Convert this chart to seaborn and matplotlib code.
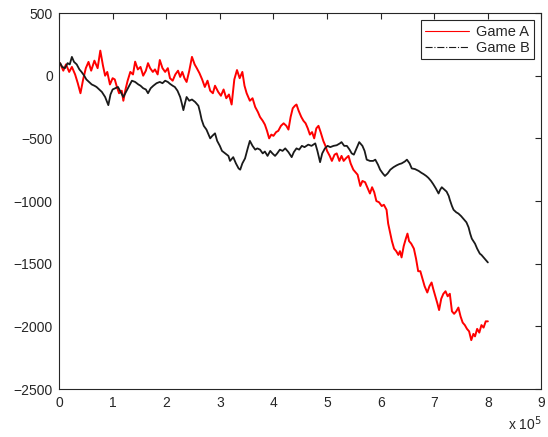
import numpy as np
import pandas as pd
import matplotlib
matplotlib.use("Agg")
import matplotlib.pyplot as plt
from matplotlib.lines import Line2D
import seaborn as sns

# x positions in units of 1e5 steps
game_a_x = [0.00, 0.02, 0.08, 0.13, 0.19, 0.24, 0.30, 0.35, 0.40, 0.45, 0.50, 0.55, 0.60, 0.66, 0.72, 0.77,
            0.82, 0.86, 0.90, 0.95, 1.00, 1.04, 1.08, 1.12, 1.17, 1.20, 1.24, 1.28, 1.33, 1.38, 1.42, 1.47,
            1.52, 1.57, 1.62, 1.66, 1.70, 1.75, 1.79, 1.84, 1.88, 1.93, 1.98, 2.03, 2.07, 2.12, 2.17, 2.22,
            2.26, 2.30, 2.34, 2.38, 2.43, 2.48, 2.53, 2.57, 2.62, 2.67, 2.72, 2.77, 2.82, 2.87, 2.91, 2.97,
            3.02, 3.07, 3.12, 3.17, 3.22, 3.27, 3.32, 3.37, 3.42, 3.46, 3.50, 3.56, 3.61, 3.66, 3.71, 3.75,
            3.80, 3.84, 3.88, 3.92, 3.96, 4.00, 4.05, 4.09, 4.14, 4.19, 4.24, 4.28, 4.32, 4.36, 4.40, 4.43,
            4.47, 4.52, 4.56, 4.60, 4.64, 4.68, 4.72, 4.76, 4.80, 4.84, 4.88, 4.93, 4.97, 5.00, 5.05, 5.09,
            5.14, 5.18, 5.23, 5.27, 5.31, 5.35, 5.40, 5.44, 5.49, 5.53, 5.57, 5.62, 5.66, 5.71, 5.76, 5.80,
            5.84, 5.88, 5.92, 5.97, 6.02, 6.06, 6.11, 6.14, 6.18, 6.21, 6.25, 6.29, 6.33, 6.36, 6.39, 6.43,
            6.47, 6.50, 6.53, 6.57, 6.62, 6.66, 6.70, 6.74, 6.78, 6.82, 6.87, 6.91, 6.95, 6.98, 7.02, 7.06,
            7.09, 7.13, 7.17, 7.21, 7.25, 7.29, 7.33, 7.37, 7.41, 7.45, 7.49, 7.53, 7.57, 7.61, 7.65, 7.69,
            7.73, 7.76, 7.80, 7.84, 7.88, 7.92, 7.96, 8.00]
game_a_y = [90, 100, 40, 90, 30, 70, 10, -60, -140, -30, 60, 110, 40, 120, 60, 200,
            80, 0, 30, -70, -20, -30, -90, -140, -120, -200, -110, -40, 30, 10, 112, 50,
            70, 0, 40, 100, 60, 30, 50, 10, 125, 60, 30, 60, -20, -40, 10, 40,
            -10, 30, -20, -50, 40, 150, 90, 60, 20, -30, -90, -40, -120, -140, -80, -130,
            -160, -110, -180, -150, -230, -30, 45, -20, 30, -80, -140, -200, -180, -250, -290, -330,
            -360, -390, -440, -500, -470, -480, -450, -440, -400, -380, -400, -430, -330, -260, -240, -230,
            -280, -330, -360, -380, -420, -470, -450, -500, -420, -400, -450, -520, -560, -600, -640, -680,
            -630, -620, -680, -640, -680, -660, -640, -700, -750, -770, -790, -880, -840, -850, -900, -940,
            -890, -930, -1000, -1010, -1040, -1030, -1070, -1180, -1260, -1320, -1380, -1400, -1430, -1400, -1450, -1360,
            -1300, -1260, -1320, -1340, -1380, -1460, -1560, -1560, -1620, -1680, -1730, -1680, -1650, -1700, -1760, -1820,
            -1870, -1780, -1740, -1720, -1760, -1740, -1880, -1900, -1880, -1850, -1920, -1970, -1990, -2020, -2040, -2110,
            -2060, -2080, -2020, -2050, -1990, -2010, -1960, -1960]

game_b_x = [0.00, 0.02, 0.06, 0.11, 0.16, 0.20, 0.24, 0.28, 0.33, 0.38, 0.42, 0.47, 0.51, 0.56, 0.61, 0.66,
            0.70, 0.75, 0.80, 0.86, 0.92, 0.96, 1.00, 1.05, 1.10, 1.15, 1.20, 1.26, 1.31, 1.36, 1.42, 1.48,
            1.52, 1.57, 1.62, 1.66, 1.71, 1.76, 1.82, 1.88, 1.93, 1.98, 2.03, 2.07, 2.12, 2.16, 2.21, 2.26,
            2.29, 2.32, 2.35, 2.38, 2.43, 2.48, 2.54, 2.60, 2.63, 2.66, 2.70, 2.75, 2.79, 2.82, 2.86, 2.91,
            2.95, 3.00, 3.04, 3.10, 3.16, 3.19, 3.25, 3.30, 3.35, 3.38, 3.42, 3.47, 3.52, 3.56, 3.61, 3.66,
            3.70, 3.75, 3.80, 3.84, 3.89, 3.94, 3.98, 4.03, 4.07, 4.12, 4.17, 4.22, 4.28, 4.34, 4.38, 4.43,
            4.48, 4.53, 4.58, 4.65, 4.71, 4.78, 4.82, 4.87, 4.91, 4.96, 5.01, 5.06, 5.12, 5.18, 5.24, 5.27,
            5.32, 5.37, 5.42, 5.46, 5.50, 5.55, 5.60, 5.62, 5.66, 5.70, 5.74, 5.80, 5.86, 5.90, 5.95, 5.99,
            6.04, 6.08, 6.13, 6.18, 6.24, 6.30, 6.35, 6.39, 6.45, 6.49, 6.54, 6.58, 6.64, 6.71, 6.76, 6.80,
            6.85, 6.89, 6.94, 6.98, 7.03, 7.08, 7.11, 7.14, 7.19, 7.23, 7.27, 7.29, 7.33, 7.36, 7.41, 7.45,
            7.50, 7.54, 7.60, 7.64, 7.67, 7.70, 7.73, 7.76, 7.80, 7.85, 7.88, 7.92, 7.96, 8.00]
game_b_y = [90, 100, 70, 60, 100, 90, 150, 110, 90, 50, 30, 0, -30, -50, -70, -80,
            -90, -110, -130, -170, -235, -150, -110, -100, -90, -130, -170, -120, -80, -40, -50, -70,
            -80, -100, -110, -140, -100, -80, -60, -50, -60, -40, -50, -65, -80, -90, -120, -170,
            -220, -275, -220, -170, -200, -190, -210, -240, -290, -350, -400, -430, -470, -500, -480, -460,
            -520, -560, -600, -620, -640, -680, -650, -700, -740, -750, -700, -660, -580, -520, -560, -590,
            -580, -590, -620, -605, -640, -600, -620, -640, -620, -590, -600, -580, -610, -650, -610, -580,
            -590, -560, -570, -550, -560, -540, -600, -690, -620, -580, -560, -570, -560, -555, -540, -530,
            -560, -560, -590, -620, -630, -580, -530, -540, -560, -600, -670, -680, -680, -670, -710, -750,
            -780, -800, -780, -750, -730, -715, -705, -700, -685, -670, -700, -740, -745, -760, -775, -785,
            -800, -815, -840, -865, -900, -940, -910, -890, -910, -925, -960, -990, -1040, -1070, -1090, -1100,
            -1120, -1140, -1170, -1210, -1260, -1300, -1320, -1340, -1380, -1420, -1430, -1450, -1470, -1490]

series_names = ["Game A", "Game B"]
x_ticks = [0, 1, 2, 3, 4, 5, 6, 7, 8, 9]
y_ticks = [500, 0, -500, -1000, -1500, -2000, -2500]
SCALE = 1e5

df_a = pd.DataFrame({"step": np.array(game_a_x) * SCALE, "value": game_a_y})
df_b = pd.DataFrame({"step": np.array(game_b_x) * SCALE, "value": game_b_y})

sns.set_style("white")
plt.rcParams["font.family"] = ["Liberation Sans", "DejaVu Sans"]
plt.rcParams["font.size"] = 10

fig = plt.figure(figsize=(5.48, 4.37), dpi=100)
ax = fig.add_axes([0.1077, 0.1098, 0.8804, 0.8604])

sns.lineplot(data=df_a, x="step", y="value", ax=ax, color="#ff0000", linewidth=1.4,
             sort=False, estimator=None, legend=False)
sns.lineplot(data=df_b, x="step", y="value", ax=ax, color="#1a1a1a", linewidth=1.3,
             sort=False, estimator=None, legend=False)

ax.set_xlim(0, 9 * SCALE)
ax.set_ylim(-2500, 500)
ax.set_xticks([t * SCALE for t in x_ticks])
ax.set_xticklabels([str(t) for t in x_ticks])
ax.set_yticks(y_ticks)
ax.set_yticklabels([str(t).replace("-", "\u2212") for t in y_ticks])
ax.set_xlabel("")
ax.set_ylabel("")
ax.tick_params(direction="in", top=True, right=True, length=4, width=0.8,
               labelsize=10, colors="#262626")
ax.tick_params(axis="x", pad=5)
ax.tick_params(axis="y", pad=4.5)
for sp in ax.spines.values():
    sp.set_visible(True)
    sp.set_color("#262626")
    sp.set_linewidth(0.8)

ax.text(1.0, -0.108, r"x 10$^{5}$", transform=ax.transAxes, ha="right", va="baseline",
        fontsize=10, color="#262626")

handles = [Line2D([], [], color="#ff0000", linewidth=0.8, linestyle="-"),
           Line2D([], [], color="#1a1a1a", linewidth=0.8, linestyle="-.")]
leg = ax.legend(handles, series_names, loc="upper right", frameon=True, fancybox=False,
                framealpha=1, edgecolor="#262626", fontsize=10.5, borderpad=0.3,
                handlelength=3.0, labelspacing=0.15, handletextpad=0.5,
                borderaxespad=0.5)
leg.get_frame().set_linewidth(0.8)

fig.savefig("out.png", dpi=100)
